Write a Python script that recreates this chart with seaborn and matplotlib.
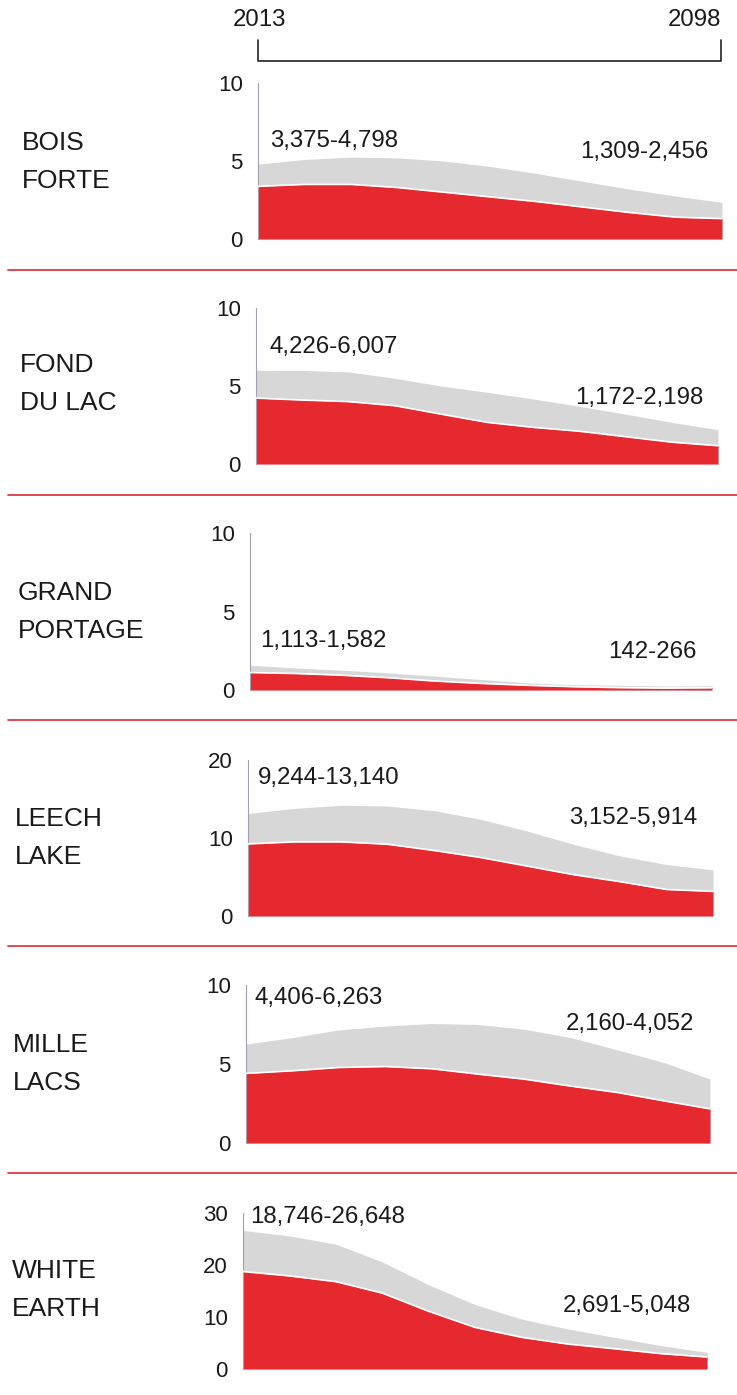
import numpy as np
import pandas as pd
import matplotlib
matplotlib.use("Agg")
import matplotlib.pyplot as plt
from matplotlib.lines import Line2D
import seaborn as sns

# ---------------- data (population in thousands) ----------------
years = [2013, 2021.5, 2030, 2038.5, 2047, 2055.5, 2064, 2072.5, 2081, 2089.5, 2098]

names = ["BOIS\nFORTE", "FOND\nDU LAC", "GRAND\nPORTAGE", "LEECH\nLAKE", "MILLE\nLACS", "WHITE\nEARTH"]
y_max = [10, 10, 10, 20, 10, 30]
y_ticks = [[0, 5, 10], [0, 5, 10], [0, 5, 10], [0, 10, 20], [0, 5, 10], [0, 10, 20, 30]]

bois_low  = [3.375, 3.5, 3.5, 3.3, 3.0, 2.7, 2.4, 2.05, 1.7, 1.4, 1.309]
bois_high = [4.798, 5.1, 5.25, 5.2, 5.0, 4.65, 4.2, 3.7, 3.2, 2.75, 2.35]
fond_low  = [4.226, 4.1, 4.0, 3.74, 3.2, 2.67, 2.35, 2.1, 1.75, 1.4, 1.172]
fond_high = [6.007, 6.0, 5.9, 5.5, 5.0, 4.6, 4.17, 3.7, 3.2, 2.67, 2.198]
gp_low    = [1.113, 1.05, 0.94, 0.78, 0.57, 0.42, 0.30, 0.21, 0.15, 0.12, 0.142]
gp_high   = [1.582, 1.4, 1.26, 1.09, 0.88, 0.67, 0.46, 0.34, 0.30, 0.25, 0.266]
leech_low  = [9.244, 9.5, 9.5, 9.2, 8.4, 7.5, 6.4, 5.3, 4.4, 3.4, 3.152]
leech_high = [13.14, 13.8, 14.2, 14.1, 13.5, 12.4, 10.9, 9.2, 7.7, 6.6, 5.914]
mille_low  = [4.406, 4.57, 4.78, 4.84, 4.7, 4.36, 4.04, 3.6, 3.2, 2.67, 2.16]
mille_high = [6.263, 6.67, 7.16, 7.4, 7.56, 7.5, 7.2, 6.67, 5.9, 5.1, 4.052]
white_low  = [18.746, 17.9, 16.8, 14.6, 11.1, 8.0, 6.1, 4.8, 3.9, 2.96, 2.3]
white_high = [26.648, 25.6, 24.0, 20.6, 16.2, 12.4, 9.6, 7.7, 6.1, 4.5, 3.2]

lows = [bois_low, fond_low, gp_low, leech_low, mille_low, white_low]
highs = [bois_high, fond_high, gp_high, leech_high, mille_high, white_high]

start_ranges = [(3375, 4798), (4226, 6007), (1113, 1582), (9244, 13140), (4406, 6263), (18746, 26648)]
end_ranges = [(1309, 2456), (1172, 2198), (142, 266), (3152, 5914), (2160, 4052), (2691, 5048)]

header_years = ["2013", "2098"]

# ---------------- layout (pixels) ----------------
W, H = 737, 1395
RED = "#e6282f"
GREY = "#d7d7d7"
SEP = "#e23a44"
INK = "#1a1a1a"

# x0, x1, ytop, ybot of each axes
boxes = [(258, 722, 83, 239), (256, 718, 308, 464), (250, 712, 533, 690),
         (248, 713, 760, 916), (246, 710, 985, 1143), (243, 707, 1213, 1369)]
label_x = [22, 20, 18, 15, 13, 12]
label_y = [162, 384, 612, 838, 1064, 1290]
start_xy = [(270, 141), (270, 347), (260, 641), (258, 778), (255, 998), (250, 1217)]
end_xy = [(708, 152), (703, 398), (697, 652), (697, 818), (694, 1024), (691, 1306)]
sep_y = [270, 495, 720, 946, 1173]

sns.set_style("white")
plt.rcParams["font.family"] = ["Liberation Sans", "DejaVu Sans"]

fig = plt.figure(figsize=(W / 100, H / 100), dpi=100)
fig.patch.set_facecolor("white")

def fx(x):
    return x / W

def fy(y):
    return 1 - y / H

FS_TICK = 16
FS_TXT = 17.3
FS_NAME = 19

for i in range(6):
    x0, x1, yt, yb = boxes[i]
    ax = fig.add_axes([fx(x0), fy(yb), (x1 - x0) / W, (yb - yt) / H])
    df = pd.DataFrame({"year": years, "low": lows[i], "high": highs[i]})
    ax.fill_between(df["year"], 0, df["high"], color=GREY, lw=0, zorder=1)
    ax.fill_between(df["year"], 0, df["low"], color=RED, lw=0, zorder=2)
    sns.lineplot(data=df, x="year", y="low", ax=ax, color="white", lw=1.2, zorder=3)
    ax.set_xlim(years[0], years[-1])
    ax.set_ylim(0, y_max[i])
    ax.set_yticks(y_ticks[i])
    ax.set_yticklabels([str(t) for t in y_ticks[i]], fontsize=FS_TICK, color=INK)
    ax.set_xticks([])
    ax.set_xlabel("")
    ax.set_ylabel("")
    for s in ["top", "right", "bottom"]:
        ax.spines[s].set_visible(False)
    ax.spines["left"].set_color("#a0a0ae")
    ax.spines["left"].set_linewidth(0.8)
    ax.tick_params(axis="y", length=3, width=0.8, color="#a0a0ae", pad=8)
    ax.patch.set_alpha(0)

    fig.text(fx(label_x[i]), fy(label_y[i]), names[i], fontsize=FS_NAME, ha="left", va="center",
             linespacing=1.7, color=INK)
    lo, hi = start_ranges[i]
    fig.text(fx(start_xy[i][0]), fy(start_xy[i][1]), f"{lo:,}-{hi:,}", fontsize=FS_TXT,
             ha="left", va="center", color=INK)
    lo, hi = end_ranges[i]
    fig.text(fx(end_xy[i][0]), fy(end_xy[i][1]), f"{lo:,}-{hi:,}", fontsize=FS_TXT,
             ha="right", va="center", color=INK)

for y in sep_y:
    fig.add_artist(Line2D([fx(8), fx(737)], [fy(y), fy(y)], color=SEP, lw=1.3))

# header bracket
fig.text(fx(259), fy(20), header_years[0], fontsize=FS_TXT, ha="center", va="center", color=INK)
fig.text(fx(694), fy(20), header_years[1], fontsize=FS_TXT, ha="center", va="center", color=INK)
fig.add_artist(Line2D([fx(258), fx(258), fx(721), fx(721)],
                      [fy(40), fy(61), fy(61), fy(40)], color="#222222", lw=1.2))

fig.savefig("out.png", dpi=100, facecolor="white")
